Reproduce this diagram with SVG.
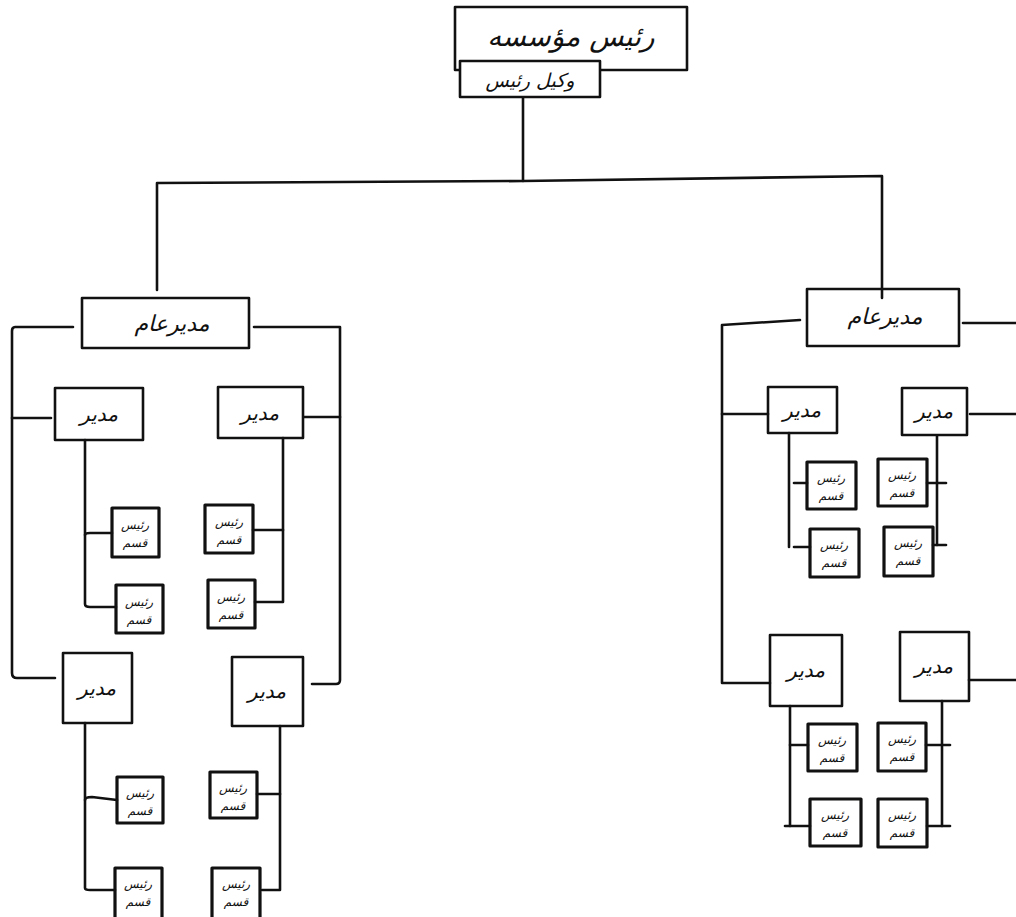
<svg xmlns="http://www.w3.org/2000/svg" width="1016" height="917" viewBox="0 0 1016 917">
<style>
.bx{fill:none;stroke:#111;stroke-width:2.6;stroke-linejoin:round}
.sb{fill:none;stroke:#111;stroke-width:3.2;stroke-linejoin:round}
.ln{fill:none;stroke:#111;stroke-width:2.6;stroke-linecap:round;stroke-linejoin:round}
text{font-family:"DejaVu Sans",sans-serif;fill:#111;text-anchor:middle;font-style:italic}
.t1{font-size:28px}
.t2{font-size:19px}
.t3{font-size:22px}
.t4{font-size:20px}
.t5{font-size:12px}
</style>
<rect width="1016" height="917" fill="#fff"/>
<g id="connectors">
<path class="ln" d="M523 97 V181"/>
<path class="ln" d="M157 290 V183 L523 181 L882 176 V298"/>
<path class="ln" d="M73 327 H15 Q12 327 12 331 V673 Q12 678 17 678 H55"/>
<path class="ln" d="M12 418 H51"/>
<path class="ln" d="M254 327 H340 V680 Q340 684 336 684 H312"/>
<path class="ln" d="M304 417 H340"/>
<path class="ln" d="M85 440 V604 Q85 607 90 607 H116"/>
<path class="ln" d="M85 535 Q85 533 90 533 H112"/>
<path class="ln" d="M283 438 V602 H255"/>
<path class="ln" d="M253 530 H283"/>
<path class="ln" d="M85 723 V888 Q85 890 90 890 H115"/>
<path class="ln" d="M85 800 Q85 797 92 797 L117 800"/>
<path class="ln" d="M280 726 V890 H262"/>
<path class="ln" d="M257 794 H280"/>
<path class="ln" d="M800 320 L722 325 V683 H770"/>
<path class="ln" d="M722 414 H768"/>
<path class="ln" d="M963 323 H1016"/>
<path class="ln" d="M970 414 H1016"/>
<path class="ln" d="M969 680 H1016"/>
<path class="ln" d="M789 433 V547"/>
<path class="ln" d="M794 483 H807"/>
<path class="ln" d="M794 547 H810"/>
<path class="ln" d="M937 436 V545"/>
<path class="ln" d="M927 483 H946"/>
<path class="ln" d="M933 545 H946"/>
<path class="ln" d="M790 706 V826"/>
<path class="ln" d="M785 826 H810"/>
<path class="ln" d="M790 745 H808"/>
<path class="ln" d="M942 701 V826"/>
<path class="ln" d="M927 826 H950"/>
<path class="ln" d="M926 745 H950"/>
</g>
<g id="n-chairman">
<rect class="bx" x="455" y="7" width="232" height="63"/>
<text class="t1" x="571" y="46">رئیس مؤسسه</text>
</g>
<g id="n-vice">
<rect class="bx" x="460" y="61" width="140" height="36" style="fill:#fff"/>
<text class="t2" x="530" y="87">وکیل رئیس</text>
</g>
<g id="n-gm-left">
<rect class="bx" x="82" y="298" width="167" height="50"/>
<text class="t3" x="172" y="331">مدیرعام</text>
</g>
<g id="n-gm-right">
<rect class="bx" x="807" y="289" width="152" height="57"/>
<text class="t3" x="885" y="324">مدیرعام</text>
</g>
<g id="n-m1"><rect class="bx" x="55" y="388" width="88" height="52"/><text class="t4" x="99" y="421">مدیر</text></g>
<g id="n-m2"><rect class="bx" x="218" y="387" width="85" height="51"/><text class="t4" x="260" y="420">مدیر</text></g>
<g id="n-m3"><rect class="bx" x="63" y="653" width="69" height="70"/><text class="t4" x="97" y="695">مدیر</text></g>
<g id="n-m4"><rect class="bx" x="232" y="657" width="71" height="69"/><text class="t4" x="267" y="698">مدیر</text></g>
<g id="n-m5"><rect class="bx" x="768" y="387" width="69" height="46"/><text class="t4" x="802" y="417">مدیر</text></g>
<g id="n-m6"><rect class="bx" x="902" y="388" width="65" height="47"/><text class="t4" x="934" y="418">مدیر</text></g>
<g id="n-m7"><rect class="bx" x="770" y="635" width="72" height="71"/><text class="t4" x="806" y="677">مدیر</text></g>
<g id="n-m8"><rect class="bx" x="900" y="632" width="69" height="69"/><text class="t4" x="934" y="673">مدیر</text></g>
<g id="n-s1"><rect class="sb" x="112" y="508" width="47" height="49"/><text class="t5" x="135" y="529">رئیس</text><text class="t5" x="135" y="547">قسم</text></g>
<g id="n-s2"><rect class="sb" x="205" y="505" width="48" height="48"/><text class="t5" x="229" y="526">رئیس</text><text class="t5" x="229" y="544">قسم</text></g>
<g id="n-s3"><rect class="sb" x="116" y="585" width="47" height="48"/><text class="t5" x="139" y="606">رئیس</text><text class="t5" x="139" y="624">قسم</text></g>
<g id="n-s4"><rect class="sb" x="208" y="580" width="47" height="48"/><text class="t5" x="231" y="601">رئیس</text><text class="t5" x="231" y="619">قسم</text></g>
<g id="n-s5"><rect class="sb" x="117" y="777" width="46" height="46"/><text class="t5" x="140" y="797">رئیس</text><text class="t5" x="140" y="815">قسم</text></g>
<g id="n-s6"><rect class="sb" x="210" y="772" width="47" height="46"/><text class="t5" x="233" y="792">رئیس</text><text class="t5" x="233" y="810">قسم</text></g>
<g id="n-s7"><rect class="sb" x="115" y="868" width="47" height="52"/><text class="t5" x="138" y="888">رئیس</text><text class="t5" x="138" y="906">قسم</text></g>
<g id="n-s8"><rect class="sb" x="212" y="868" width="48" height="52"/><text class="t5" x="236" y="888">رئیس</text><text class="t5" x="236" y="906">قسم</text></g>
<g id="n-s9"><rect class="sb" x="807" y="462" width="49" height="47"/><text class="t5" x="831" y="482">رئیس</text><text class="t5" x="831" y="500">قسم</text></g>
<g id="n-s10"><rect class="sb" x="878" y="459" width="49" height="47"/><text class="t5" x="902" y="479">رئیس</text><text class="t5" x="902" y="497">قسم</text></g>
<g id="n-s11"><rect class="sb" x="810" y="529" width="49" height="48"/><text class="t5" x="834" y="549">رئیس</text><text class="t5" x="834" y="567">قسم</text></g>
<g id="n-s12"><rect class="sb" x="884" y="527" width="49" height="49"/><text class="t5" x="908" y="547">رئیس</text><text class="t5" x="908" y="565">قسم</text></g>
<g id="n-s13"><rect class="sb" x="808" y="724" width="49" height="47"/><text class="t5" x="832" y="744">رئیس</text><text class="t5" x="832" y="762">قسم</text></g>
<g id="n-s14"><rect class="sb" x="878" y="723" width="48" height="48"/><text class="t5" x="902" y="743">رئیس</text><text class="t5" x="902" y="761">قسم</text></g>
<g id="n-s15"><rect class="sb" x="810" y="799" width="51" height="47"/><text class="t5" x="835" y="819">رئیس</text><text class="t5" x="835" y="837">قسم</text></g>
<g id="n-s16"><rect class="sb" x="878" y="799" width="49" height="48"/><text class="t5" x="902" y="819">رئیس</text><text class="t5" x="902" y="837">قسم</text></g>
</svg>
